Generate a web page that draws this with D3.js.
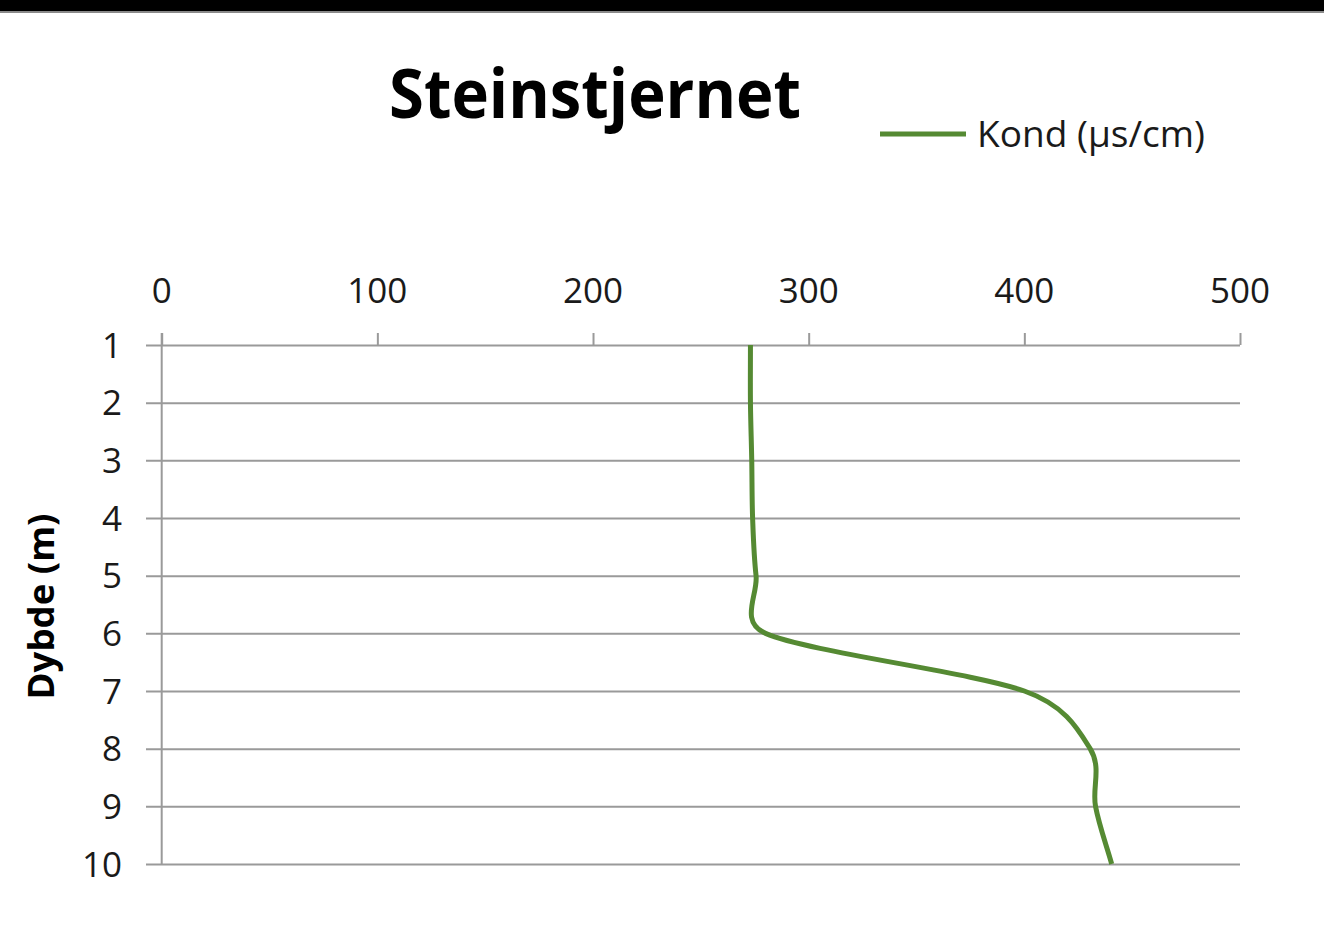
<!DOCTYPE html>
<html>
<head>
<meta charset="utf-8">
<script src="https://cdn.jsdelivr.net/npm/d3@7"></script>
<style>
  html, body { margin: 0; padding: 0; background: #fff; }
  svg { display: block; }
</style>
</head>
<body>
<svg id="chart" width="1324" height="933"></svg>
<script>
// ---- Data ----
const chartTitle = "Steinstjernet";
const seriesName = "Kond (µs/cm)";
const yAxisTitle = "Dybde (m)";
const depths = [1, 2, 3, 4, 5, 6, 7, 8, 9, 10];
const kond = [273, 273, 273.6, 274, 275.6, 280, 400, 430.5, 433, 440.5];
const xTicks = [0, 100, 200, 300, 400, 500];
const yTicks = [1, 2, 3, 4, 5, 6, 7, 8, 9, 10];

// ---- Layout ----
const svg = d3.select("#chart");
const W = 1324, H = 933;
const plot = { left: 161.7, right: 1240, top: 345, bottom: 864 };
const lineColor = "#558a33";
const gridColor = "#9a9a9a";
const textColor = "#1a1a1a";
const font = "'Open Sans', 'Noto Sans', sans-serif";

svg.append("rect").attr("width", W).attr("height", H).attr("fill", "#fff");
// top dark band
svg.append("rect").attr("x", 0).attr("y", 0).attr("width", W).attr("height", 11).attr("fill", "#000");
svg.append("rect").attr("x", 0).attr("y", 11).attr("width", W).attr("height", 2).attr("fill", "#8a8a8a");

const x = d3.scaleLinear().domain([0, 500]).range([plot.left, plot.right]);
const y = d3.scaleLinear().domain([1, 10]).range([plot.top, plot.bottom]);

// horizontal gridlines (with left tick overhang)
const yAxis = d3.axisLeft(y).tickValues(yTicks).tickSize(-(plot.right - plot.left)).tickFormat("");
const gy = svg.append("g").attr("transform", `translate(${plot.left},0)`).call(yAxis);
gy.select(".domain").remove();
gy.selectAll(".tick line").attr("stroke", gridColor).attr("stroke-width", 2)
  .attr("x1", -(plot.left - 146));

// y tick labels
svg.append("g").selectAll("text").data(yTicks).join("text")
  .attr("x", 122).attr("y", d => y(d)).attr("dy", "0.36em")
  .attr("text-anchor", "end")
  .attr("font-family", font).attr("font-size", 35).attr("fill", textColor)
  .text(d => d);

// top x axis: ticks only
const xAxis = d3.axisTop(x).tickValues(xTicks).tickSize(12).tickFormat("");
const gx = svg.append("g").attr("transform", `translate(0,${plot.top})`).call(xAxis);
gx.select(".domain").remove();
gx.selectAll(".tick line").attr("stroke", gridColor).attr("stroke-width", 2);

svg.append("g").selectAll("text").data(xTicks).join("text")
  .attr("x", d => x(d)).attr("y", 303)
  .attr("text-anchor", "middle")
  .attr("font-family", font).attr("font-size", 35).attr("fill", textColor)
  .text(d => d);

// vertical axis line at x=0
svg.append("line")
  .attr("x1", x(0)).attr("x2", x(0))
  .attr("y1", plot.top - 12).attr("y2", y(10))
  .attr("stroke", gridColor).attr("stroke-width", 2);

// Excel-like smoothing curve (Bezier with capped control arms)
function curveExcel(context) {
  let pts;
  const dist = (a, b) => Math.hypot(b[0] - a[0], b[1] - a[1]);
  return {
    areaStart() {}, areaEnd() {},
    lineStart() { pts = []; },
    point(px, py) { pts.push([+px, +py]); },
    lineEnd() {
      const n = pts.length;
      if (!n) return;
      context.moveTo(pts[0][0], pts[0][1]);
      for (let i = 0; i < n - 1; i++) {
        const first = i === 0, last = i + 2 > n - 1;
        const p0 = pts[Math.max(i - 1, 0)], p1 = pts[i], p2 = pts[i + 1], p3 = pts[Math.min(i + 2, n - 1)];
        const d12 = dist(p1, p2);
        const d02 = dist(p0, p2), d13 = dist(p1, p3);
        const f1 = first ? 1 / 3 : 1 / 6, f2 = last ? 1 / 3 : 1 / 6;
        const a1 = d02 > 0 ? Math.min(d02 * f1, d12 / 2) / d02 : 0;
        const a2 = d13 > 0 ? Math.min(d13 * f2, d12 / 2) / d13 : 0;
        const c1 = [p1[0] + (p2[0] - p0[0]) * a1, p1[1] + (p2[1] - p0[1]) * a1];
        const c2 = [p2[0] - (p3[0] - p1[0]) * a2, p2[1] - (p3[1] - p1[1]) * a2];
        context.bezierCurveTo(c1[0], c1[1], c2[0], c2[1], p2[0], p2[1]);
      }
    }
  };
}

const line = d3.line()
  .x((d, i) => x(kond[i]))
  .y((d, i) => y(depths[i]))
  .curve(curveExcel);

svg.append("path")
  .datum(depths)
  .attr("d", line)
  .attr("fill", "none")
  .attr("stroke", lineColor)
  .attr("stroke-width", 5)
  .attr("stroke-linejoin", "round");

// title
svg.append("text")
  .attr("x", 595).attr("y", 118)
  .attr("text-anchor", "middle")
  .attr("font-family", font).attr("font-weight", "bold").attr("font-size", 68)
  .attr("textLength", 412).attr("lengthAdjust", "spacingAndGlyphs")
  .attr("fill", "#000")
  .text(chartTitle);

// legend
svg.append("line")
  .attr("x1", 880).attr("x2", 966).attr("y1", 134).attr("y2", 134)
  .attr("stroke", lineColor).attr("stroke-width", 5);
svg.append("text")
  .attr("x", 977).attr("y", 147)
  .attr("font-family", font).attr("font-size", 37)
  .attr("textLength", 228).attr("lengthAdjust", "spacingAndGlyphs")
  .attr("fill", textColor)
  .text(seriesName);

// y axis title
svg.append("text")
  .attr("transform", `translate(54,${(plot.top + plot.bottom) / 2 + 2}) rotate(-90)`)
  .attr("text-anchor", "middle")
  .attr("font-family", font).attr("font-weight", "bold").attr("font-size", 35)
  .attr("textLength", 186).attr("lengthAdjust", "spacingAndGlyphs")
  .attr("fill", "#000")
  .text(yAxisTitle);
</script>
</body>
</html>
